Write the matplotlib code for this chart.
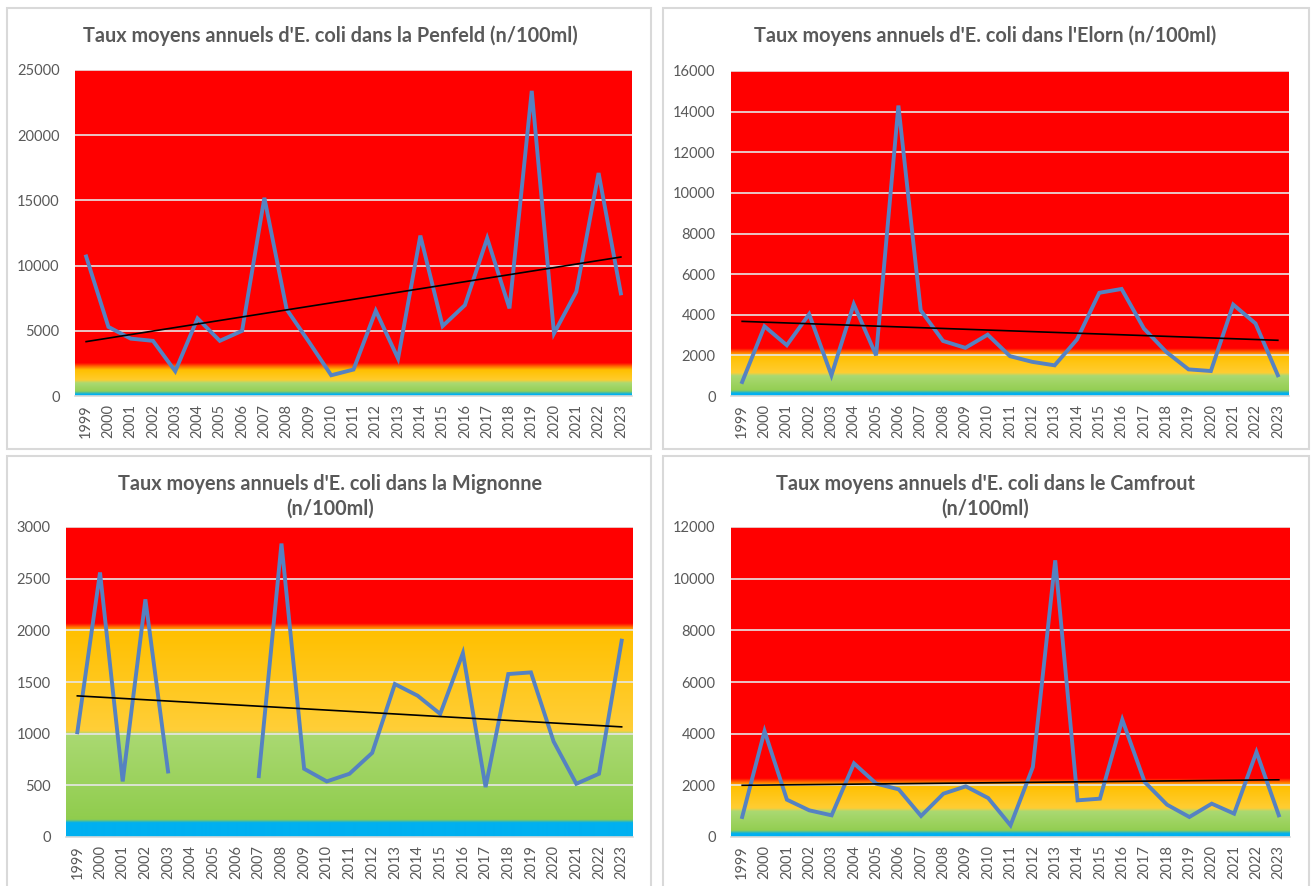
import numpy as np
import matplotlib
matplotlib.use("Agg")
import matplotlib.pyplot as plt
from matplotlib.colors import to_rgb
from matplotlib.patches import Rectangle

plt.rcParams['font.family'] = ['Lato', 'DejaVu Sans']

years = [str(y) for y in range(1999, 2024)]

penfeld = [10700, 5300, 4400, 4230, 1900, 5950, 4230, 5000, 15200, 6640,
           4150, 1590, 2030, 6540, 2870, 12300, 5360, 6970, 12100, 6720,
           23400, 4800, 8000, 17100, 7870]
elorn = [690, 3430, 2500, 4030, 1020, 4520, 2000, 14300, 4220, 2710,
         2370, 3020, 1960, 1680, 1510, 2780, 5080, 5270, 3320, 2170,
         1310, 1230, 4500, 3570, 1020]
mignonne = [1014, 2560, 538, 2300, 634, None, None, None, 589, 2840,
            660, 538, 612, 814, 1480, 1368, 1191, 1780, 483, 1577,
            1593, 924, 515, 612, 1900]
camfrout = [774, 4100, 1445, 1032, 839, 2850, 2064, 1845, 813, 1677,
            1961, 1509, 452, 2709, 10710, 1419, 1484, 4542, 2129, 1251,
            774, 1290, 903, 3290, 839]

titles = ["Taux moyens annuels d'E. coli dans la Penfeld (n/100ml)",
          "Taux moyens annuels d'E. coli dans l'Elorn (n/100ml)",
          "Taux moyens annuels d'E. coli dans la Mignonne\n(n/100ml)",
          "Taux moyens annuels d'E. coli dans le Camfrout\n(n/100ml)"]
ymaxs = [25000, 16000, 3000, 12000]
ysteps = [5000, 2000, 500, 2000]

W, H = 1314, 886
fig = plt.figure(figsize=(W / 100, H / 100), dpi=100)

# panel borders (pixels: left, top, right, bottom)
panels = [(7, 8, 651, 449), (663, 8, 1309, 449), (7, 456, 651, 900), (663, 456, 1309, 900)]
for (l, t, r, b) in panels:
    fig.patches.append(Rectangle((l / W, 1 - b / H), (r - l) / W, (b - t) / H,
                                 transform=fig.transFigure, fill=False,
                                 edgecolor='#D9D9D9', linewidth=1.5, zorder=0))

# plot areas (pixels: left, top, right, bottom)
areas = [(75, 70, 632, 396), (731, 71, 1289, 396), (66, 527, 633, 837), (731, 527, 1290, 837)]
title_pos = [(330, 36), (985, 36), (330, 496), (985, 496)]

blue = np.array(to_rgb('#00B0F0'))
green_lo = np.array(to_rgb('#8FCC4C'))
green_hi = np.array(to_rgb('#AAD972'))
yel_lo = np.array(to_rgb('#FFCF3A'))
yel_hi = np.array(to_rgb('#FFC000'))
orange = np.array(to_rgb('#FF6A00'))
red = np.array(to_rgb('#FF0000'))


def profile(ymax, npx):
    n = int(npx) * 2
    per = ymax / n  # data units per half-pixel row
    vals = ymax * (np.arange(n) + 0.5) / n
    ramp = 7 * 2 * per  # ~7 pixels
    rows = []
    for v in vals:
        if v < 140:
            c = blue
        elif v < 1000:
            f = (v - 140) / 860
            c = green_lo * (1 - f) + green_hi * f
            g = min(1, (v - 140) / (3 * 2 * per))
            c = blue * (1 - g) + c * g
        elif v < 2000:
            f = (v - 1000) / 1000
            c = yel_lo * (1 - f) + yel_hi * f
            g = min(1, (v - 1000) / (3 * 2 * per))
            c = green_hi * (1 - g) + c * g
        elif v < 2000 + ramp:
            f = (v - 2000) / ramp
            if f < 0.5:
                c = yel_hi * (1 - 2 * f) + orange * 2 * f
            else:
                c = orange * (2 - 2 * f) + red * (2 * f - 1)
        else:
            c = red
        rows.append(c)
    img = np.array(rows)
    return img[::-1][:, None, :]


series = [penfeld, elorn, mignonne, camfrout]
for i, data in enumerate(series):
    l, t, r, b = areas[i]
    ax = fig.add_axes([l / W, 1 - b / H, (r - l) / W, (b - t) / H])
    ymax = ymaxs[i]
    y = np.array([np.nan if v is None else v for v in data], dtype=float)
    x = np.arange(len(years))
    ax.set_xlim(-0.5, len(years) - 0.5)
    ax.set_ylim(0, ymax)
    img = profile(ymax, b - t)
    ax.imshow(img, extent=[-0.5, len(years) - 0.5, 0, ymax], aspect='auto',
              zorder=0, interpolation='bilinear')
    ax.set_yticks(np.arange(0, ymax + 1, ysteps[i]))
    for gy in np.arange(ysteps[i], ymax + 1, ysteps[i]):
        ax.axhline(gy, color='#E6E6E6', lw=1.2, zorder=1)
    ax.plot(x, y, color='#5582C2', lw=2.8, zorder=3, solid_joinstyle='miter')
    m = ~np.isnan(y)
    c = np.polyfit(x[m], y[m], 1)
    ax.plot([x[0], x[-1]], np.polyval(c, [x[0], x[-1]]), color='black', lw=1.2, zorder=4)
    ax.set_xticks(x)
    ax.set_xticklabels(years, rotation=90)
    ax.tick_params(axis='both', length=0, colors='#595959', labelsize=10.5)
    ax.tick_params(axis='y', pad=11)
    ax.tick_params(axis='x', pad=6)
    for s in ['top', 'right', 'left']:
        ax.spines[s].set_visible(False)
    ax.spines['bottom'].set_color('#D9D9D9')
    ax.spines['bottom'].set_linewidth(1.2)
    tx, ty = title_pos[i]
    fig.text(tx / W, 1 - ty / H, titles[i], ha='center', va='center',
             fontsize=14.3, fontweight='bold', color='#595959', linespacing=1.3)

fig.savefig('out.png', dpi=100)
